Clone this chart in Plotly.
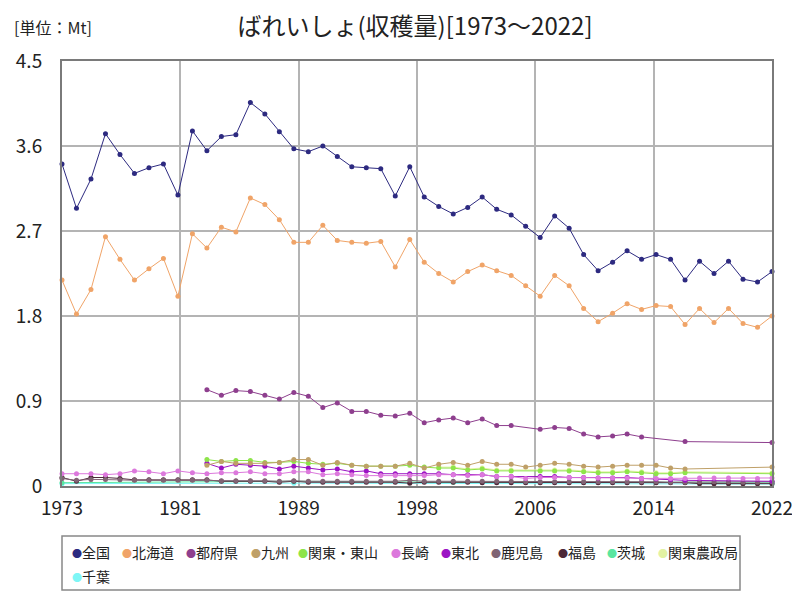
import plotly.graph_objects as go

years = list(range(1973, 2023))

zenkoku = [3.41, 2.94, 3.25, 3.73, 3.51, 3.31, 3.37, 3.41, 3.08, 3.76,
           3.55, 3.70, 3.72, 4.06, 3.94, 3.75, 3.57, 3.54, 3.60, 3.49,
           3.38, 3.37, 3.36, 3.07, 3.38, 3.06, 2.96, 2.88, 2.95, 3.06,
           2.93, 2.87, 2.75, 2.63, 2.86, 2.73, 2.45, 2.28, 2.37, 2.49,
           2.40, 2.45, 2.40, 2.18, 2.38, 2.25, 2.38, 2.19, 2.16, 2.27]

hokkaido = [2.18, 1.82, 2.08, 2.64, 2.40, 2.18, 2.30, 2.41, 2.01, 2.67,
            2.52, 2.74, 2.69, 3.05, 2.98, 2.82, 2.58, 2.58, 2.76, 2.60,
            2.58, 2.57, 2.59, 2.32, 2.61, 2.37, 2.25, 2.16, 2.27, 2.34,
            2.28, 2.23, 2.12, 2.01, 2.23, 2.12, 1.88, 1.74, 1.83, 1.93,
            1.87, 1.91, 1.90, 1.71, 1.88, 1.73, 1.88, 1.72, 1.68, 1.80]

N = None
tofuken = [N, N, N, N, N, N, N, N, N, N,
           1.02, 0.96, 1.01, 1.00, 0.96, 0.92, 0.99, 0.95, 0.83, 0.88,
           0.79, 0.79, 0.75, 0.74, 0.77, 0.67, 0.70, 0.72, 0.67, 0.71,
           0.64, 0.64, N, 0.60, 0.62, 0.61, 0.55, 0.52, 0.53, 0.55,
           0.52, N, N, 0.47, N, N, N, N, N, 0.46]

kyushu = [N, N, N, N, N, N, N, N, N, N,
          0.22, 0.26, 0.24, 0.24, 0.24, 0.25, 0.28, 0.28, 0.22, 0.25,
          0.22, 0.21, 0.21, 0.21, 0.24, 0.19, 0.23, 0.25, 0.22, 0.26,
          0.23, 0.23, 0.20, 0.22, 0.24, 0.23, 0.21, 0.20, 0.21, 0.22,
          0.22, 0.22, 0.19, 0.18, N, N, N, N, N, 0.20]

kanto_tosan = [N, N, N, N, N, N, N, N, N, N,
               0.28, 0.26, 0.27, 0.27, 0.25, 0.25, 0.26, 0.24, 0.23, 0.24,
               0.22, 0.21, 0.21, 0.21, 0.22, 0.20, 0.19, 0.19, 0.17, 0.18,
               0.16, 0.16, N, 0.16, 0.16, 0.16, 0.15, 0.14, 0.14, 0.15,
               0.14, 0.13, 0.13, 0.14, N, N, N, N, N, 0.13]

nagasaki = [0.13, 0.13, 0.13, 0.12, 0.13, 0.16, 0.15, 0.13, 0.16, 0.14,
            0.13, 0.14, 0.14, 0.15, 0.13, 0.13, 0.15, 0.15, 0.12, 0.13,
            0.12, 0.11, 0.11, 0.11, 0.11, 0.11, 0.12, 0.12, 0.11, 0.12,
            0.10, 0.10, 0.08, 0.09, 0.09, 0.09, 0.09, 0.085, 0.085, 0.085,
            0.08, 0.08, 0.08, 0.08, 0.085, 0.085, 0.085, 0.08, 0.08, 0.085]

tohoku = [N, N, N, N, N, N, N, N, N, N,
          0.24, 0.19, 0.23, 0.22, 0.21, 0.18, 0.21, 0.19, 0.17, 0.18,
          0.15, 0.16, 0.13, 0.13, 0.13, 0.13, 0.13, 0.12, 0.12, 0.12,
          0.10, 0.10, N, 0.10, 0.10, 0.09, 0.09, 0.085, 0.085, 0.09,
          0.08, 0.075, 0.07, 0.06, N, N, N, N, N, 0.05]

kagoshima = [0.08, 0.06, 0.07, 0.07, 0.065, 0.06, 0.06, 0.06, 0.06, 0.06,
             0.06, 0.055, 0.055, 0.055, 0.055, 0.05, 0.055, 0.05, 0.05, 0.05,
             0.05, 0.05, 0.05, 0.05, 0.06, 0.05, 0.05, 0.05, 0.05, 0.05,
             0.05, 0.05, 0.045, 0.045, 0.045, 0.045, 0.045, 0.045, 0.045, 0.045,
             0.045, 0.045, 0.04, 0.04, 0.045, 0.045, 0.045, 0.04, 0.04, 0.045]

fukushima = [0.09, 0.05, 0.09, 0.09, 0.08, 0.065, 0.065, 0.065, 0.065, 0.065,
             0.065, 0.05, 0.05, 0.05, 0.05, 0.04, 0.05, 0.04, 0.04, 0.04,
             0.04, 0.04, 0.04, 0.04, 0.03, 0.04, 0.04, 0.04, 0.04, 0.035,
             0.035, 0.035, 0.035, 0.035, 0.035, 0.035, 0.035, 0.035, 0.035, 0.035,
             0.035, 0.035, 0.035, 0.035, 0.025, 0.025, 0.025, 0.025, 0.025, 0.025]

ibaraki = [0.035, N, N, N, N, N, N, N, N, N,
           N, N, N, N, N, N, 0.05, N, N, N,
           N, N, N, N, N, N, N, 0.04, N, N,
           N, N, N, N, N, N, N, N, N, N,
           N, N, N, 0.04, N, N, N, N, N, 0.04]

kanto_nosei = [N, N, N, N, N, N, N, N, N, N,
               N, N, N, N, N, N, N, N, N, N,
               N, N, N, N, N, N, 0.20, 0.20, 0.18, 0.19,
               0.17, 0.17, N, 0.17, 0.17, 0.17, 0.16, 0.15, 0.15, 0.16,
               0.15, 0.14, 0.14, 0.15, N, N, N, N, N, 0.14]

chiba = [0.025, N, N, N, N, N, N, N, N, N,
         N, N, N, N, N, N, 0.03, N, N, N,
         N, N, N, N, N, N, N, N, N, N,
         N, N, N, N, N, N, N, N, N, N,
         N, N, N, N, N, N, N, N, N, 0.02]

series_names = ["全国", "北海道", "都府県", "九州", "関東・東山", "長崎", "東北",
                "鹿児島", "福島", "茨城", "関東農政局", "千葉"]
series_values = [zenkoku, hokkaido, tofuken, kyushu, kanto_tosan, nagasaki, tohoku,
                 kagoshima, fukushima, ibaraki, kanto_nosei, chiba]
series_colors = ["#2d2a80", "#f0a468", "#8e3f8e", "#bfa068", "#8ee44a", "#dc78dc",
                 "#9c14c4", "#806474", "#4c2838", "#5ae6a0", "#e2f2a2", "#7ef6f6"]

x_tick_labels = ["1973", "1981", "1989", "1998", "2006", "2014", "2022"]
y_tick_vals = [0, 0.9, 1.8, 2.7, 3.6, 4.5]
y_tick_labels = ["0", "0.9", "1.8", "2.7", "3.6", "4.5"]

FONT = "Noto Sans CJK JP, Noto Sans, sans-serif"

# the page has an 8px body margin, so the figure is drawn 8px in from the window edge
OFF = 8
W, H = 800 - OFF, 600 - OFF
PL, PR, PT, PB = 62, 772, 61, 486   # plot box in window pixels
PW, PH = PR - PL, PB - PT


def px_x(px):
    return (px - PL) / PW


def px_y(py):
    return (PB - py) / PH


fig = go.Figure()
order = list(range(len(series_names)))[::-1]
for i in order:
    fig.add_trace(go.Scatter(
        x=years, y=series_values[i], name=series_names[i],
        mode="lines+markers", connectgaps=True, cliponaxis=False,
        line=dict(color=series_colors[i], width=1),
        marker=dict(color=series_colors[i], size=5),
        showlegend=False,
    ))

x0, x1 = years[0], years[-1]
x_tick_vals = [x0 + k * (x1 - x0) / 6 for k in range(7)]

fig.update_layout(
    width=W, height=H,
    margin=dict(l=PL - OFF, r=W - (PR - OFF), t=PT - OFF, b=H - (PB - OFF), autoexpand=False),
    paper_bgcolor="white", plot_bgcolor="white",
    font=dict(family=FONT, color="#222222"),
    title=dict(text="ばれいしょ(収穫量)[1973～2022]", x=(415 - OFF) / W, xanchor="center",
               y=1 - (27 - OFF) / H, yanchor="middle", yref="container",
               font=dict(size=24, family=FONT, color="#222222")),
    xaxis=dict(range=[x0, x1], tickvals=x_tick_vals, ticktext=x_tick_labels,
               showgrid=True, gridcolor="#b4b4b4", gridwidth=2,
               showline=True, linecolor="#7a7a7a", linewidth=2, mirror=True,
               zeroline=False, ticks="", ticklabelstandoff=4,
               tickfont=dict(size=19, family=FONT, color="#222222")),
    yaxis=dict(range=[0, 4.5], tickvals=y_tick_vals, ticktext=y_tick_labels,
               showgrid=True, gridcolor="#b4b4b4", gridwidth=2,
               showline=True, linecolor="#7a7a7a", linewidth=2, mirror=True,
               zeroline=False, ticks="", ticklabelstandoff=14,
               tickfont=dict(size=19, family=FONT, color="#222222")),
    showlegend=False,
)

fig.add_annotation(text="[単位：Mt]", xref="paper", yref="paper",
                   x=px_x(12), y=px_y(27), xanchor="left", yanchor="middle",
                   showarrow=False, font=dict(size=16, family=FONT, color="#222222"))

fig.add_shape(type="rect", xref="paper", yref="paper",
              x0=0, x1=px_x(740), y0=px_y(536), y1=px_y(590),
              line=dict(color="#888888", width=1.5), fillcolor="white")

legend_px = [74, 124, 188, 253, 300, 393, 443, 493, 560, 609, 660, 74]
legend_py = [552] * 11 + [576]
for name, col, px, py in zip(series_names, series_colors, legend_px, legend_py):
    fig.add_annotation(
        text=f"<span style='color:{col};font-size:10px'>●</span>{name}",
        xref="paper", yref="paper", x=px_x(px - 4), y=px_y(py),
        xanchor="left", yanchor="middle", showarrow=False,
        font=dict(size=14, family=FONT, color="#222222"))

fig.write_html("out.html")
